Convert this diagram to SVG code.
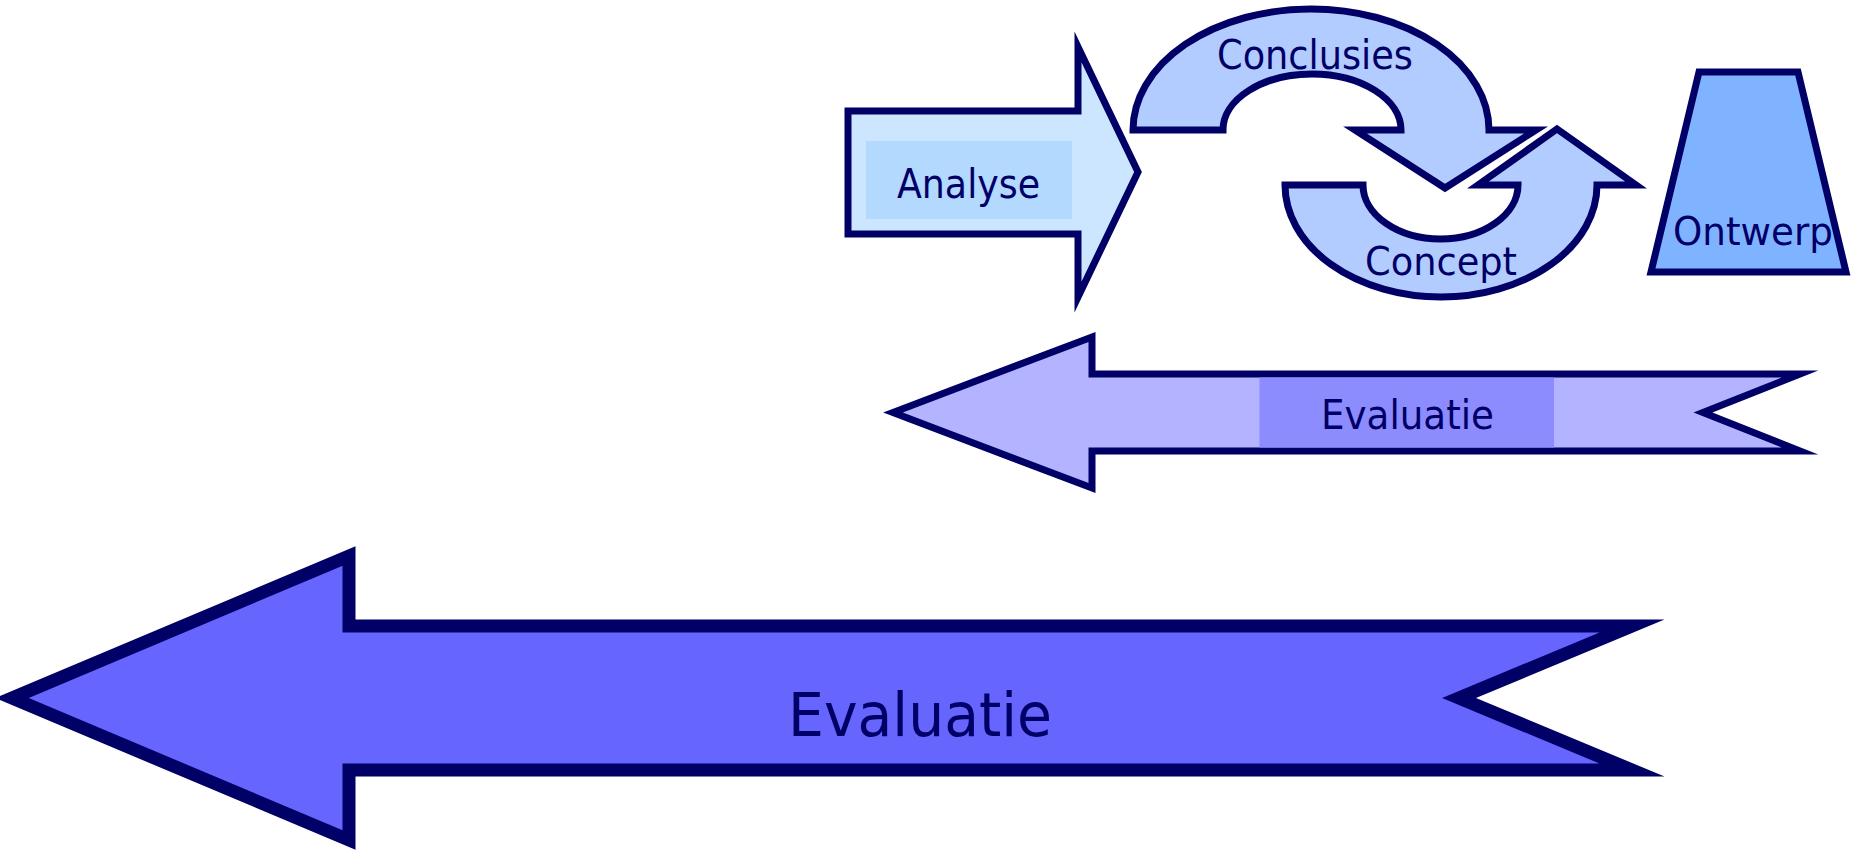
<svg xmlns="http://www.w3.org/2000/svg" width="1863" height="852" viewBox="0 0 1863 852">
<style>
.sh{stroke:#000066;stroke-width:7;stroke-linejoin:miter;stroke-miterlimit:10}
.lbl{font-family:"DejaVu Sans","Liberation Sans",sans-serif;fill:#000066}
</style>
<rect width="1863" height="852" fill="#ffffff"/>
<g id="analyse">
<path class="sh" fill="#cce6ff" d="M848,111 L1078,111 L1078,47 L1138,172 L1078,297 L1078,234 L848,234 Z"/>
<rect x="866" y="141" width="206" height="78" fill="#b3d9ff"/>
<text class="lbl" x="897" y="198" font-size="40" textLength="143" lengthAdjust="spacingAndGlyphs">Analyse</text>
</g>
<g id="conclusies">
<path class="sh" fill="#b3ccff" d="M1133,130 A178,121 0 0 1 1489,130 L1536,130 L1445,188 L1355,130 L1401,130 A89,56 0 0 0 1223,130 Z"/>
<text class="lbl" x="1217" y="69" font-size="41" textLength="196" lengthAdjust="spacingAndGlyphs">Conclusies</text>
</g>
<g id="concept">
<path class="sh" fill="#b3ccff" d="M1363,185 L1285,185 A156,112 0 0 0 1597,185 L1636,185 L1557,129 L1478,185 L1518,185 A77.5,54 0 0 1 1363,185 Z"/>
<text class="lbl" x="1365" y="275" font-size="39" textLength="152" lengthAdjust="spacingAndGlyphs">Concept</text>
</g>
<g id="ontwerp">
<path class="sh" fill="#80b3ff" d="M1699,72 L1798,72 L1846,272 L1651,272 Z"/>
<text class="lbl" x="1673" y="245" font-size="39" textLength="160" lengthAdjust="spacingAndGlyphs">Ontwerp</text>
</g>
<g id="evaluatie-klein">
<path class="sh" fill="#b3b3ff" d="M893,412.5 L1092,337 L1092,374 L1800,374 L1703,412.5 L1800,451 L1092,451 L1092,488 Z"/>
<rect x="1259.5" y="377.5" width="294.5" height="70" fill="#8c8cff"/>
<text class="lbl" x="1321" y="429" font-size="41" textLength="173" lengthAdjust="spacingAndGlyphs">Evaluatie</text>
</g>
<g id="evaluatie-groot">
<path class="sh" style="stroke-width:13" fill="#6666ff" d="M12,698 L349,556 L349,626 L1632,626 L1459,698 L1632,770 L349,770 L349,840 Z"/>
<text class="lbl" x="788" y="736" font-size="60" textLength="264" lengthAdjust="spacingAndGlyphs">Evaluatie</text>
</g>
<g id="connectors"></g>
</svg>
